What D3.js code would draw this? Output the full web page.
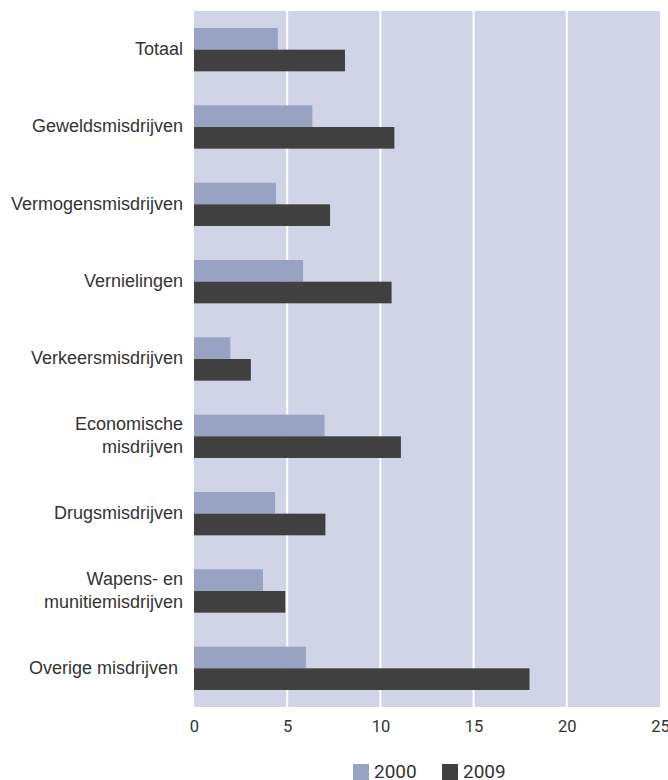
<!DOCTYPE html>
<html>
<head>
<meta charset="utf-8">
<script src="https://cdn.jsdelivr.net/npm/d3@7"></script>
<style>
  body { margin: 0; background: #fff; }
  svg { display: block; font-family: "Liberation Sans", Arial, sans-serif; }
</style>
</head>
<body>
<script>
var categories = [
    ["Totaal"],
    ["Geweldsmisdrijven"],
    ["Vermogensmisdrijven"],
    ["Vernielingen"],
    ["Verkeersmisdrijven"],
    ["Economische", "misdrijven"],
    ["Drugsmisdrijven"],
    ["Wapens- en", "munitiemisdrijven"],
    ["Overige misdrijven\u00a0"]
];
var series = ["2000", "2009"];
var values2000 = [4.5, 6.35, 4.4, 5.85, 1.95, 7.0, 4.35, 3.7, 6.0];
var values2009 = [8.1, 10.75, 7.3, 10.6, 3.05, 11.1, 7.05, 4.9, 18.0];
var ticks = [0, 5, 10, 15, 20, 25];
var colors = ["#98a2c2", "#404040"];

var W = 668, H = 780;
// note: "top" is taken by window.top, so use plot* names
var plotL = 194, plotR = 660, plotT = 11, plotB = 707;

var svg = d3.select("body").append("svg")
    .attr("width", W)
    .attr("height", H);

var x = d3.scaleLinear().domain([0, 25]).range([plotL, plotR]);
var idx = d3.range(categories.length);
var y = d3.scaleBand().domain(idx).range([plotT, plotB])
    .paddingInner(0.44).paddingOuter(0.22);
var ySub = d3.scaleBand().domain(series).range([0, y.bandwidth()]);

// plot background
svg.append("rect")
    .attr("x", plotL).attr("y", plotT)
    .attr("width", plotR - plotL).attr("height", plotB - plotT)
    .attr("fill", "#d0d4e6");

// gridlines
svg.append("g").selectAll("line")
    .data(ticks.slice(1, -1))
    .join("line")
    .attr("x1", d => x(d)).attr("x2", d => x(d))
    .attr("y1", plotT).attr("y2", plotB)
    .attr("stroke", "#fff")
    .attr("stroke-width", 2);

// bars
var rows = idx.map(i => ({ i: i, v: [values2000[i], values2009[i]] }));
var grp = svg.append("g").selectAll("g")
    .data(rows)
    .join("g")
    .attr("transform", d => `translate(0,${y(d.i)})`);

grp.selectAll("rect")
    .data(d => d.v.map((v, k) => ({ s: series[k], v: v, k: k })))
    .join("rect")
    .attr("x", x(0))
    .attr("y", d => ySub(d.s))
    .attr("width", d => x(d.v) - x(0))
    .attr("height", ySub.bandwidth())
    .attr("fill", d => colors[d.k]);

// category labels
var lineH = 22.5, fs = 18;
var lab = svg.append("g")
    .attr("font-size", fs + "px")
    .attr("fill", "#333")
    .attr("text-anchor", "end");

lab.selectAll("text")
    .data(idx)
    .join("text")
    .attr("x", plotL - 11)
    .attr("y", i => y(i) + y.bandwidth() / 2)
    .each(function (i) {
        var lines = categories[i];
        var t = d3.select(this);
        lines.forEach(function (s, k) {
            t.append("tspan")
                .attr("x", plotL - 11)
                .attr("dy", k === 0 ? (0.3 * fs - (lines.length - 1) * lineH / 2) + "px" : lineH + "px")
                .text(s);
        });
    });

// x axis
var ax = svg.append("g")
    .attr("transform", `translate(0,${plotB})`)
    .call(d3.axisBottom(x).tickValues(ticks).tickSize(0).tickPadding(13));
ax.select(".domain").remove();
ax.selectAll("text")
    .attr("font-family", "Roboto, sans-serif")
    .attr("font-size", "16.5px")
    .attr("fill", "#333");

// legend
var leg = svg.append("g").attr("transform", "translate(353,764)");
var item = leg.selectAll("g")
    .data(series)
    .join("g")
    .attr("transform", (d, k) => `translate(${k * 89},0)`);
item.append("rect")
    .attr("width", 16).attr("height", 16)
    .attr("fill", (d, k) => colors[k]);
item.append("text")
    .attr("x", 21).attr("y", 14)
    .attr("font-family", "Roboto, sans-serif")
    .attr("font-size", "19px")
    .attr("fill", "#333")
    .text(d => d);
</script>
</body>
</html>
